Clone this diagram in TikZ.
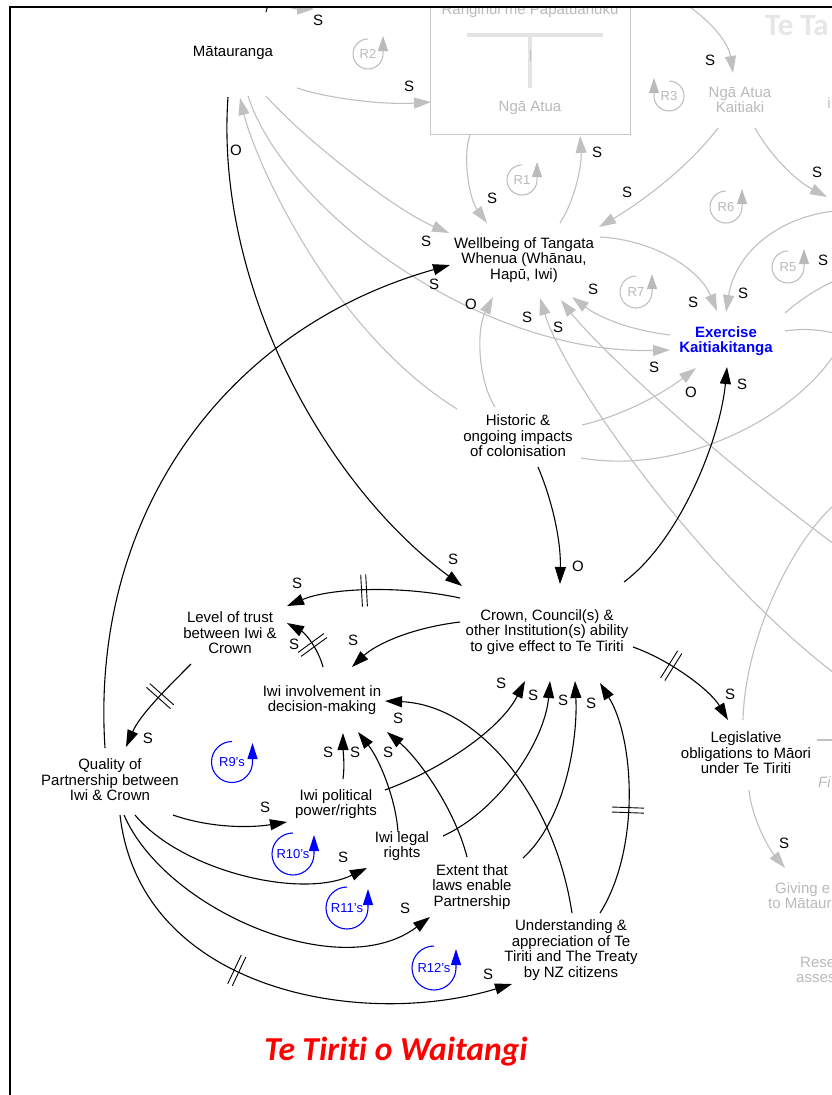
\documentclass[tikz,border=0pt]{standalone}
\usepackage{fontspec}
\setmainfont{Liberation Sans}
\newfontfamily\titlefont[Ligatures=NoCommon]{Carlito}
\usetikzlibrary{arrows.meta,decorations.markings}
\definecolor{lightline}{RGB}{192,192,192}
\definecolor{lighttext}{RGB}{186,186,186}
\definecolor{boxgray}{RGB}{200,200,200}
\definecolor{tgray}{RGB}{228,228,228}
\definecolor{watermark}{RGB}{230,230,230}
\begin{document}
\begin{tikzpicture}[x=1pt,y=-1pt,
  txt/.style={font=\fontsize{15}{15.5}\selectfont, align=center, inner sep=0pt},
  gtxt/.style={txt, text=lighttext},
  lbl/.style={font=\fontsize{15}{15}\selectfont, inner sep=0pt},
  rtxt/.style={font=\fontsize{13}{13}\selectfont, inner sep=0pt},
  tip/.style={-{Triangle[length=17pt,width=11pt]}},
  blk/.style={draw=black, line width=1.1pt, tip},
  gry/.style={draw=lightline, line width=1.1pt, tip},
  gryline/.style={draw=lightline, line width=1.1pt},
  gloop/.style={draw=lighttext, line width=1pt, -{Triangle[length=15pt,width=10pt]}},
  bloop/.style={draw=blue, line width=1.1pt, -{Triangle[length=16pt,width=10pt]}},
  delaymark/.style={postaction={decorate}, decoration={markings,
    mark=at position #1 with {\draw[-, black, line width=0.9pt] (-2.5,-16) -- (-2.5,16) (2.5,-16) -- (2.5,16);}}}
]
\fill[white] (0,0) rectangle (832,1095);
\useasboundingbox (0,0) rectangle (832,1095);

\begin{scope}
\clip (10,7) rectangle (832,1095);

% ---------- faded upper part of the map ----------
\node[draw=boxgray, line width=1pt, minimum width=200, minimum height=154, inner sep=0pt] (rangi) at (530,57) {};
\node[gtxt, anchor=base] (rangitop) at (530,14.5) {Ranginui me Papatūānuku};
\draw[tgray, line width=4pt] (467,35) -- (603,35);
\draw[tgray, line width=4pt] (530,35) -- (530,88);
\draw[lightline, line width=0.8pt] (530,50) -- (530,61);
\node[gtxt] (ngaatua) at (530,108) {Ngā Atua};
\node[gtxt] (kaitiaki) at (740,100) {Ngā Atua\\Kaitiaki};
\node[gtxt] (fragi) at (829,103) {i};
\node[anchor=base west, font=\titlefont\bfseries\fontsize{31}{31}\selectfont, text=watermark, inner sep=0pt] (tetaiao) at (765,35) {Te Ta};
\node[gtxt, anchor=base west, font=\fontsize{15}{15}\selectfont\itshape] (fragfi) at (818,787) {Fi};
\node[gtxt, anchor=base west] (giving1) at (775,893) {Giving e};
\node[gtxt, anchor=base west] (giving2) at (768,908) {to Mātaur};
\node[gtxt, anchor=base west] (rese1) at (800,967) {Rese};
\node[gtxt, anchor=base west] (rese2) at (796,982) {asses};

% ---------- main variables ----------
\node[txt] (matau) at (233,53) {Mātauranga};
\node[txt] (wellbeing) at (524,260) {Wellbeing of Tangata\\Whenua (Whānau,\\Hapū, Iwi)};
\node[txt, font=\fontsize{15}{15.5}\selectfont\bfseries, text=blue] (exercise) at (726,341) {Exercise\\Kaitiakitanga};
\node[txt] (historic) at (518,436) {Historic \&\\ongoing impacts\\of colonisation};
\node[txt] (crown) at (547,632) {Crown, Council(s) \&\\other Institution(s) ability\\to give effect to Te Tiriti};
\node[txt] (trust) at (230,633) {Level of trust\\between Iwi \&\\Crown};
\node[txt] (involve) at (322,700) {Iwi involvement in\\decision-making};
\node[txt] (quality) at (110,780) {Quality of\\Partnership between\\Iwi \& Crown};
\node[txt] (political) at (336,804) {Iwi political\\power/rights};
\node[txt] (legal) at (402,846) {Iwi legal\\rights};
\node[txt] (extent) at (472,887) {Extent that\\laws enable\\Partnership};
\node[txt] (understand) at (571,950) {Understanding \&\\appreciation of Te\\Tiriti and The Treaty\\by NZ citizens};
\node[txt] (legis) at (746,753) {Legislative\\obligations to Māori\\under Te Tiriti};

% ---------- loose ends leaving the frame ----------
\coordinate (offA) at (250,-4);
\coordinate (offA2) at (314,9);
\coordinate (offB) at (676,-2);
\coordinate (offC) at (827,197);
\coordinate (offD) at (834,211);
\coordinate (offE) at (834,281);
\coordinate (offF) at (834,333);
\coordinate (offG) at (834,355);
\coordinate (offH) at (834,673);
\coordinate (offI) at (834,544);
\coordinate (offJ) at (834,505);
\coordinate (offK) at (834,740);
\coordinate (offL) at (268,5);
\coordinate (offL2) at (266,12);

% ---------- faded links ----------
\draw[gry] (offA) .. controls (275,4) and (295,9) .. (offA2);
\draw[black, line width=1pt] (offL) -- (offL2);
\draw[gry] ([shift={(64,35)}]matau.center) .. controls (330,99) and (385,105) .. ([shift={(-99,45)}]rangi.center);
\draw[gry] (offB) .. controls (705,15) and (728,40) .. ([shift={(-7,-27)}]kaitiaki.center);
\draw[gry] ([shift={(-60,77)}]rangi.center) .. controls (462,160) and (470,200) .. ([shift={(-37,-37)}]wellbeing.center);
\draw[gry] ([shift={(36,-37)}]wellbeing.center) .. controls (575,200) and (582,165) .. ([shift={(50,79)}]rangi.center);
\draw[gry] ([shift={(-22,28)}]kaitiaki.center) .. controls (690,165) and (645,200) .. ([shift={(75,-33)}]wellbeing.center);
\draw[gry] ([shift={(15,28)}]kaitiaki.center) .. controls (770,155) and (795,180) .. (offC);
\draw[gry] (offD) .. controls (775,218) and (735,255) .. ([shift={(0,-29)}]exercise.center);
\draw[gry] ([shift={(76,-23)}]wellbeing.center) .. controls (655,240) and (700,270) .. ([shift={(-9,-30)}]exercise.center);
\draw[gry] ([shift={(-56,-6)}]exercise.center) .. controls (630,330) and (600,318) .. ([shift={(48,37)}]wellbeing.center);
\draw[gryline] ([shift={(59,-28)}]exercise.center) .. controls (800,300) and (815,290) .. (offE);
\draw[gryline] ([shift={(59,-10)}]exercise.center) .. controls (805,328) and (820,330) .. (offF);
\draw[gryline] ([shift={(63,22)}]historic.center) .. controls (680,475) and (790,420) .. (offG);
\draw[gry] ([shift={(64,-11)}]historic.center) .. controls (625,415) and (665,392) .. ([shift={(-30,27)}]exercise.center);
\draw[gry] ([shift={(15,43)}]matau.center) .. controls (285,210) and (480,355) .. ([shift={(-56,9)}]exercise.center);
\draw[gry] ([shift={(33,43)}]matau.center) .. controls (305,140) and (395,210) .. ([shift={(-75,-27)}]wellbeing.center);
\draw[gry] ([shift={(-61,-27)}]historic.center) .. controls (330,330) and (255,160) .. ([shift={(7,45)}]matau.center);
\draw[gry] ([shift={(-23,-29)}]historic.center) .. controls (478,380) and (476,330) .. ([shift={(-31,37)}]wellbeing.center);
\draw[gry] (offH) .. controls (700,570) and (565,380) .. ([shift={(16,38)}]wellbeing.center);
\draw[gry] (offI) .. controls (720,460) and (600,350) .. ([shift={(37,40)}]wellbeing.center);
\draw[gryline] ([shift={(-3,-33)}]legis.center) .. controls (745,640) and (790,545) .. (offJ);
\draw[gryline] ([shift={(71,-13)}]legis.center) -- (offK);
\draw[gry] ([shift={(3,37)}]legis.center) .. controls (752,820) and (770,850) .. ([shift={(10,-25)}]giving1.base west);

% ---------- faded loop markers ----------
\node[rtxt, text=lighttext] (r2) at (368,54) {R2};
\draw[gloop] ([shift={(0,-15)}]r2.center) arc[start angle=270,end angle=0,radius=15] -- ++(0,-18);
\node[rtxt, text=lighttext] (r1) at (522,180) {R1};
\draw[gloop] ([shift={(0,-15)}]r1.center) arc[start angle=270,end angle=0,radius=15] -- ++(0,-18);
\node[rtxt, text=lighttext] (r3) at (669,96) {R3};
\draw[gloop] ([shift={(0,-15)}]r3.center) arc[start angle=270,end angle=540,radius=15] -- ++(0,-18);
\node[rtxt, text=lighttext] (r6) at (726,207) {R6};
\draw[gloop] ([shift={(0,-16)}]r6.center) arc[start angle=270,end angle=0,radius=16] -- ++(0,-18);
\node[rtxt, text=lighttext] (r5) at (788,267) {R5};
\draw[gloop] ([shift={(0,-16)}]r5.center) arc[start angle=270,end angle=0,radius=16] -- ++(0,-18);
\node[rtxt, text=lighttext] (r7) at (636,292) {R7};
\draw[gloop] ([shift={(0,-16)}]r7.center) arc[start angle=270,end angle=0,radius=16] -- ++(0,-18);

% ---------- Te Tiriti links ----------
\draw[blk] ([shift={(-5,44)}]matau.center) .. controls (215,280) and (320,480) .. ([shift={(-85,-46)}]crown.center);
\draw[blk] ([shift={(-5,-32)}]quality.center) .. controls (90,520) and (220,330) .. ([shift={(-74,5)}]wellbeing.center);
\draw[blk] ([shift={(20,31)}]historic.center) .. controls (552,500) and (561,540) .. ([shift={(13,-48)}]crown.center);
\draw[blk] ([shift={(77,-50)}]crown.center) .. controls (680,540) and (720,440) .. ([shift={(1,26)}]exercise.center);
\draw[blk, delaymark=0.55] ([shift={(-87,-34)}]crown.center) .. controls (400,585) and (330,588) .. ([shift={(57,-27)}]trust.center);
\draw[blk] ([shift={(-87,-10)}]crown.center) .. controls (410,628) and (375,645) .. ([shift={(30,-33)}]involve.center);
\draw[blk, delaymark=0.42] ([shift={(1,-33)}]involve.center) .. controls (318,648) and (305,633) .. ([shift={(57,-10)}]trust.center);
\draw[blk, delaymark=0.42] ([shift={(-39,31)}]trust.center) .. controls (165,690) and (140,715) .. ([shift={(16,-33)}]quality.center);
\draw[blk] ([shift={(63,35)}]quality.center) .. controls (210,828) and (250,828) .. ([shift={(-49,18)}]political.center);
\draw[blk] ([shift={(25,35)}]quality.center) .. controls (180,870) and (300,900) .. ([shift={(-35,22)}]legal.center);
\draw[blk] ([shift={(14,35)}]quality.center) .. controls (165,910) and (340,985) .. ([shift={(-42,30)}]extent.center);
\draw[blk, delaymark=0.42] ([shift={(10,35)}]quality.center) .. controls (140,990) and (360,1030) .. ([shift={(-59,34)}]understand.center);
\draw[blk] ([shift={(7,-25)}]political.center) .. controls (345,765) and (343,750) .. ([shift={(21,33)}]involve.center);
\draw[blk] ([shift={(-4,-14)}]legal.center) .. controls (396,800) and (380,760) .. ([shift={(36,32)}]involve.center);
\draw[blk] ([shift={(-5,-30)}]extent.center) .. controls (455,810) and (420,760) .. ([shift={(65,32)}]involve.center);
\draw[blk] ([shift={(1,-37)}]understand.center) .. controls (555,800) and (480,705) .. ([shift={(63,1)}]involve.center);
\draw[blk] ([shift={(49,-14)}]political.center) .. controls (440,770) and (500,730) .. ([shift={(-22,49)}]crown.center);
\draw[blk] ([shift={(41,-10)}]legal.center) .. controls (500,810) and (545,740) .. ([shift={(3,49)}]crown.center);
\draw[blk] ([shift={(51,-29)}]extent.center) .. controls (565,820) and (578,740) .. ([shift={(28,49)}]crown.center);
\draw[blk, delaymark=0.45] ([shift={(29,-37)}]understand.center) .. controls (640,850) and (635,740) .. ([shift={(53,51)}]crown.center);
\draw[blk, delaymark=0.35] ([shift={(86,15)}]crown.center) .. controls (670,660) and (710,690) .. ([shift={(-18,-33)}]legis.center);

% ---------- reinforcing loop markers ----------
\node[rtxt, text=blue] (r9) at (232,762) {R9's};
\draw[bloop] ([shift={(0,-20.5)}]r9.center) arc[start angle=270,end angle=0,radius=20.5] -- ++(0,-19);
\node[rtxt, text=blue] (r10) at (293,854) {R10's};
\draw[bloop] ([shift={(0,-21)}]r10.center) arc[start angle=270,end angle=0,radius=21] -- ++(0,-19);
\node[rtxt, text=blue] (r11) at (347,908) {R11's};
\draw[bloop] ([shift={(0,-21)}]r11.center) arc[start angle=270,end angle=0,radius=21] -- ++(0,-19);
\node[rtxt, text=blue] (r12) at (434,968) {R12's};
\draw[bloop] ([shift={(0,-22)}]r12.center) arc[start angle=270,end angle=0,radius=22] -- ++(0,-19);

% ---------- polarity labels ----------
\node[lbl] (p1) at (318,20) {S};
\node[lbl] (p2) at (409,86) {S};
\node[lbl] (p3) at (710,60) {S};
\node[lbl] (p4) at (597,152) {S};
\node[lbl] (p5) at (492,198) {S};
\node[lbl] (p6) at (627,192) {S};
\node[lbl] (p7) at (817,172) {S};
\node[lbl] (p8) at (426,241) {S};
\node[lbl] (p9) at (434,284) {S};
\node[lbl] (p10) at (471,304) {O};
\node[lbl] (p11) at (593,289) {S};
\node[lbl] (p12) at (527,317) {S};
\node[lbl] (p13) at (558,327) {S};
\node[lbl] (p14) at (693,302) {S};
\node[lbl] (p15) at (743,293) {S};
\node[lbl] (p16) at (823,260) {S};
\node[lbl] (p17) at (654,367) {S};
\node[lbl] (p18) at (691,392) {O};
\node[lbl] (p19) at (742,384) {S};
\node[lbl] (p20) at (236,150) {O};
\node[lbl] (p21) at (453,559) {S};
\node[lbl] (p22) at (578,566) {O};
\node[lbl] (p23) at (297,583) {S};
\node[lbl] (p24) at (353,640) {S};
\node[lbl] (p25) at (294,644) {S};
\node[lbl] (p26) at (148,738) {S};
\node[lbl] (p27) at (265,807) {S};
\node[lbl] (p28) at (328,752) {S};
\node[lbl] (p29) at (355,752) {S};
\node[lbl] (p30) at (388,752) {S};
\node[lbl] (p31) at (398,718) {S};
\node[lbl] (p32) at (501,683) {S};
\node[lbl] (p33) at (533,695) {S};
\node[lbl] (p34) at (563,700) {S};
\node[lbl] (p35) at (591,703) {S};
\node[lbl] (p36) at (730,694) {S};
\node[lbl] (p37) at (343,857) {S};
\node[lbl] (p38) at (405,908) {S};
\node[lbl] (p39) at (488,974) {S};
\node[lbl] (p40) at (784,843) {S};

% ---------- title ----------
\node[anchor=base, inner sep=0pt, text=red, font=\titlefont\bfseries\itshape\fontsize{33.5}{33.5}\selectfont] (title) at (396,1060) {Te Tiriti o Waitangi};
\end{scope}

% ---------- frame ----------
\draw[line width=2.5pt] (10,7) -- (834,7);
\draw[line width=2pt] (10,6) -- (10,1097);
\end{tikzpicture}
\end{document}
